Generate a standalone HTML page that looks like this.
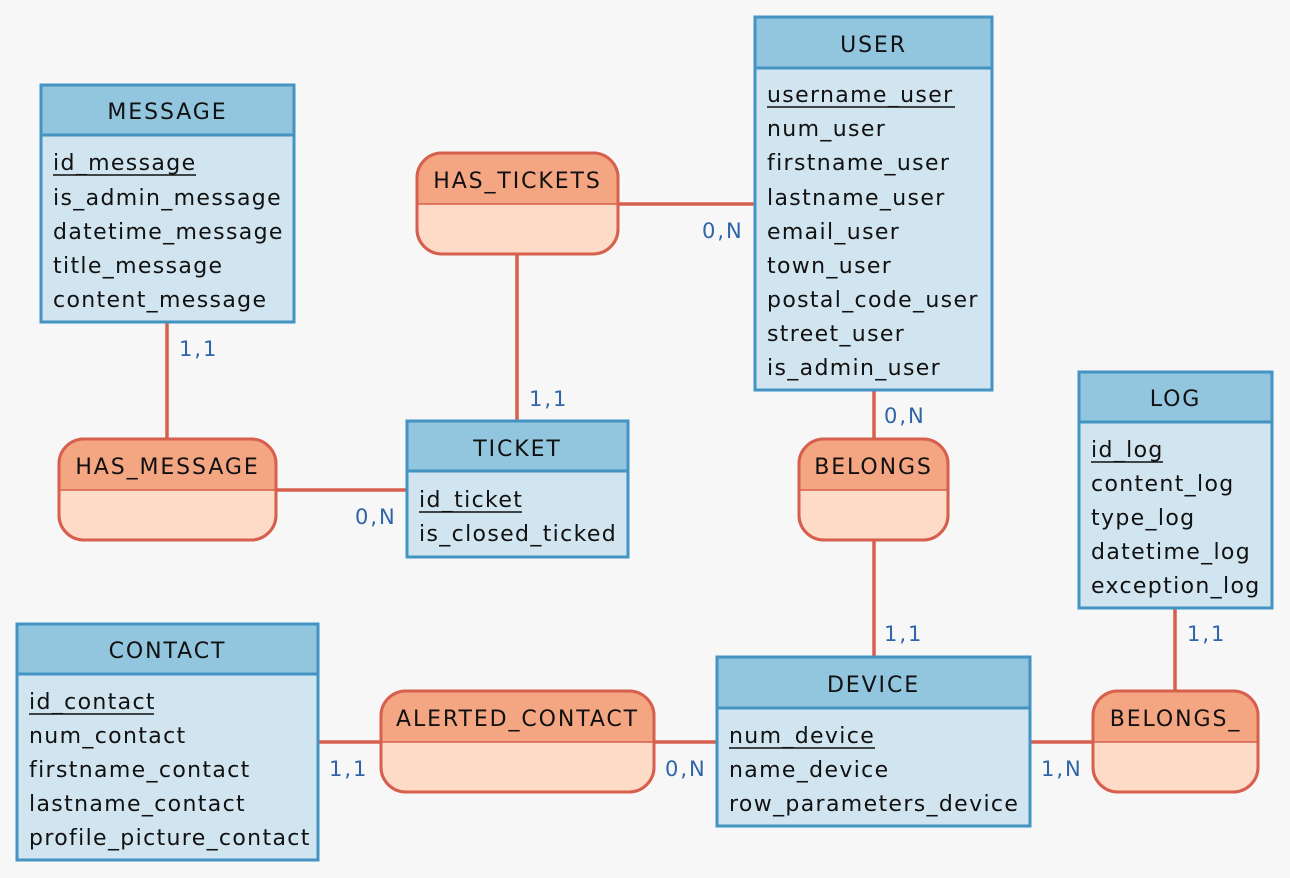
<!DOCTYPE html>
<html><head><meta charset="utf-8"><style>
html,body{margin:0;padding:0;background:#f7f7f7;}
svg{display:block;}
text{font-family:"DejaVu Sans","Liberation Sans",sans-serif;font-size:22px;letter-spacing:1.35px;}
.e{fill:#d1e5f0;stroke:#4393c3;stroke-width:3}
.eh{fill:#92c5de;stroke:#4393c3;stroke-width:3}
.r{fill:#fddbc7;stroke:#d6604d;stroke-width:3}
.rh{fill:#f4a582}
.l{stroke:#d6604d;stroke-width:3.5;fill:none}
.c{fill:#2f64a8;font-size:21px;letter-spacing:2px}
.t{fill:#111}
.h{letter-spacing:1.9px}
</style></head><body>
<svg width="1290" height="878" viewBox="0 0 1290 878">
<rect width="1290" height="878" fill="#f7f7f7"/>
<line class="l" x1="618" y1="204" x2="755" y2="204"/>
<line class="l" x1="517" y1="254" x2="517" y2="421"/>
<line class="l" x1="167" y1="322" x2="167" y2="439"/>
<line class="l" x1="276" y1="490" x2="407" y2="490"/>
<line class="l" x1="874" y1="390" x2="874" y2="439"/>
<line class="l" x1="874" y1="540" x2="874" y2="657"/>
<line class="l" x1="318" y1="742" x2="381" y2="742"/>
<line class="l" x1="654" y1="742" x2="717" y2="742"/>
<line class="l" x1="1030" y1="742" x2="1093" y2="742"/>
<line class="l" x1="1175" y1="608" x2="1175" y2="691"/>
<text class="c" x="702" y="238">0,N</text>
<text class="c" x="529" y="406">1,1</text>
<text class="c" x="179" y="356">1,1</text>
<text class="c" x="355" y="524">0,N</text>
<text class="c" x="884" y="423">0,N</text>
<text class="c" x="884" y="641">1,1</text>
<text class="c" x="329" y="776">1,1</text>
<text class="c" x="665" y="776">0,N</text>
<text class="c" x="1041" y="776">1,N</text>
<text class="c" x="1187" y="641">1,1</text>

<g>
<clipPath id="c1"><rect x="417" y="153" width="201" height="51"/></clipPath>
<rect class="r" x="417" y="153" width="201" height="101" rx="25"/>
<rect class="rh" x="417" y="153" width="201" height="101" rx="25" clip-path="url(#c1)"/>
<rect x="417" y="153" width="201" height="101" rx="25" fill="none" stroke="#d6604d" stroke-width="3"/>
<line x1="417" y1="204" x2="618" y2="204" stroke="#d6604d" stroke-width="1.5"/>
<text class="t h" x="517.5" y="188" text-anchor="middle">HAS_TICKETS</text>
</g>
<g>
<clipPath id="c2"><rect x="59" y="439" width="217" height="51"/></clipPath>
<rect class="r" x="59" y="439" width="217" height="101" rx="25"/>
<rect class="rh" x="59" y="439" width="217" height="101" rx="25" clip-path="url(#c2)"/>
<rect x="59" y="439" width="217" height="101" rx="25" fill="none" stroke="#d6604d" stroke-width="3"/>
<line x1="59" y1="490" x2="276" y2="490" stroke="#d6604d" stroke-width="1.5"/>
<text class="t h" x="167.5" y="474" text-anchor="middle">HAS_MESSAGE</text>
</g>
<g>
<clipPath id="c3"><rect x="799" y="439" width="149" height="51"/></clipPath>
<rect class="r" x="799" y="439" width="149" height="101" rx="25"/>
<rect class="rh" x="799" y="439" width="149" height="101" rx="25" clip-path="url(#c3)"/>
<rect x="799" y="439" width="149" height="101" rx="25" fill="none" stroke="#d6604d" stroke-width="3"/>
<line x1="799" y1="490" x2="948" y2="490" stroke="#d6604d" stroke-width="1.5"/>
<text class="t h" x="873.5" y="474" text-anchor="middle">BELONGS</text>
</g>
<g>
<clipPath id="c4"><rect x="381" y="691" width="273" height="51"/></clipPath>
<rect class="r" x="381" y="691" width="273" height="101" rx="25"/>
<rect class="rh" x="381" y="691" width="273" height="101" rx="25" clip-path="url(#c4)"/>
<rect x="381" y="691" width="273" height="101" rx="25" fill="none" stroke="#d6604d" stroke-width="3"/>
<line x1="381" y1="742" x2="654" y2="742" stroke="#d6604d" stroke-width="1.5"/>
<text class="t h" x="517.5" y="726" text-anchor="middle">ALERTED_CONTACT</text>
</g>
<g>
<clipPath id="c5"><rect x="1093" y="691" width="165" height="51"/></clipPath>
<rect class="r" x="1093" y="691" width="165" height="101" rx="25"/>
<rect class="rh" x="1093" y="691" width="165" height="101" rx="25" clip-path="url(#c5)"/>
<rect x="1093" y="691" width="165" height="101" rx="25" fill="none" stroke="#d6604d" stroke-width="3"/>
<line x1="1093" y1="742" x2="1258" y2="742" stroke="#d6604d" stroke-width="1.5"/>
<text class="t h" x="1175.5" y="726" text-anchor="middle">BELONGS_</text>
</g>

<rect class="e" x="41" y="85" width="253" height="237"/>
<rect class="eh" x="41" y="85" width="253" height="50"/>
<text class="t h" x="167.5" y="119" text-anchor="middle">MESSAGE</text>
<text class="t" x="53" y="170">id_message</text>
<line x1="53" y1="175" x2="196" y2="175" stroke="#111" stroke-width="1.5"/>
<text class="t" x="53" y="205">is_admin_message</text>
<text class="t" x="53" y="239">datetime_message</text>
<text class="t" x="53" y="273">title_message</text>
<text class="t" x="53" y="307">content_message</text>

<rect class="e" x="755" y="17" width="237" height="373"/>
<rect class="eh" x="755" y="17" width="237" height="51"/>
<text class="t h" x="873.5" y="52" text-anchor="middle">USER</text>
<text class="t" x="767" y="102">username_user</text>
<line x1="767" y1="107" x2="955" y2="107" stroke="#111" stroke-width="1.5"/>
<text class="t" x="767" y="136">num_user</text>
<text class="t" x="767" y="170">firstname_user</text>
<text class="t" x="767" y="205">lastname_user</text>
<text class="t" x="767" y="239">email_user</text>
<text class="t" x="767" y="273">town_user</text>
<text class="t" x="767" y="307">postal_code_user</text>
<text class="t" x="767" y="341">street_user</text>
<text class="t" x="767" y="375">is_admin_user</text>

<rect class="e" x="407" y="421" width="221" height="136"/>
<rect class="eh" x="407" y="421" width="221" height="50"/>
<text class="t h" x="517.5" y="456" text-anchor="middle">TICKET</text>
<text class="t" x="419" y="507">id_ticket</text>
<line x1="419" y1="512" x2="522" y2="512" stroke="#111" stroke-width="1.5"/>
<text class="t" x="419" y="541">is_closed_ticked</text>

<rect class="e" x="1079" y="372" width="193" height="236"/>
<rect class="eh" x="1079" y="372" width="193" height="50"/>
<text class="t h" x="1175.5" y="406" text-anchor="middle">LOG</text>
<text class="t" x="1091" y="457">id_log</text>
<line x1="1091" y1="462" x2="1163" y2="462" stroke="#111" stroke-width="1.5"/>
<text class="t" x="1091" y="491">content_log</text>
<text class="t" x="1091" y="525">type_log</text>
<text class="t" x="1091" y="559">datetime_log</text>
<text class="t" x="1091" y="593">exception_log</text>

<rect class="e" x="17" y="624" width="301" height="236"/>
<rect class="eh" x="17" y="624" width="301" height="50"/>
<text class="t h" x="167.5" y="658" text-anchor="middle">CONTACT</text>
<text class="t" x="29" y="709">id_contact</text>
<line x1="29" y1="714" x2="154" y2="714" stroke="#111" stroke-width="1.5"/>
<text class="t" x="29" y="743">num_contact</text>
<text class="t" x="29" y="777">firstname_contact</text>
<text class="t" x="29" y="811">lastname_contact</text>
<text class="t" x="29" y="845">profile_picture_contact</text>

<rect class="e" x="717" y="657" width="313" height="169"/>
<rect class="eh" x="717" y="657" width="313" height="51"/>
<text class="t h" x="873.5" y="692" text-anchor="middle">DEVICE</text>
<text class="t" x="729" y="743">num_device</text>
<line x1="729" y1="748" x2="875" y2="748" stroke="#111" stroke-width="1.5"/>
<text class="t" x="729" y="777">name_device</text>
<text class="t" x="729" y="811">row_parameters_device</text>
</svg>
</body></html>
